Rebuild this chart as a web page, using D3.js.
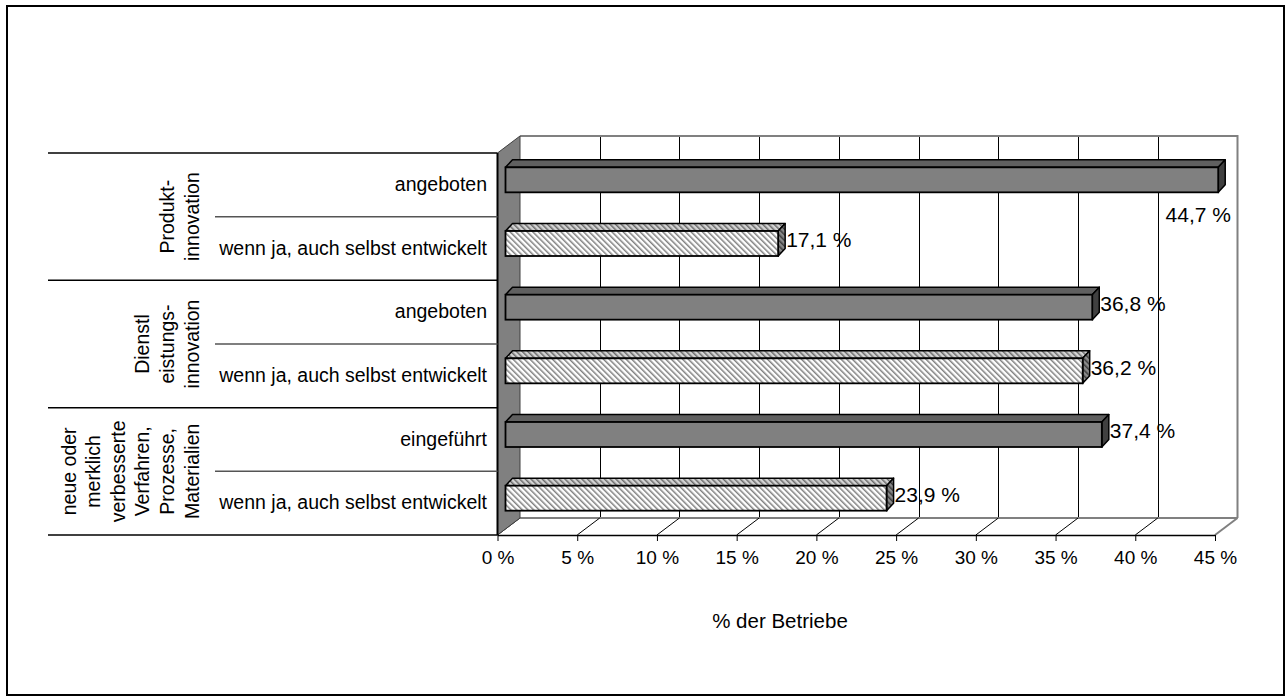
<!DOCTYPE html>
<html>
<head>
<meta charset="utf-8">
<script src="https://cdn.jsdelivr.net/npm/d3@7"></script>
<style>
  html, body { margin: 0; padding: 0; background: #fff; }
  svg { display: block; font-family: "Liberation Sans", Arial, sans-serif; }
</style>
</head>
<body>
<svg id="chart" width="1286" height="700"></svg>
<script>
// Innovation activity of establishments, share in percent
const rowLabels = [
  "angeboten",
  "wenn ja, auch selbst entwickelt",
  "angeboten",
  "wenn ja, auch selbst entwickelt",
  "eingeführt",
  "wenn ja, auch selbst entwickelt"
];
const groupLabels = [
  ["Produkt-", "innovation"],
  ["Dienstl", "eistungs-", "innovation"],
  ["neue oder", "merklich", "verbesserte", "Verfahren,", "Prozesse,", "Materialien"]
];
const values = [44.7, 17.1, 36.8, 36.2, 37.4, 23.9];
const valueLabels = ["44,7 %", "17,1 %", "36,8 %", "36,2 %", "37,4 %", "23,9 %"];
const seriesKind = ["solid", "hatch", "solid", "hatch", "solid", "hatch"];
const tickValues = [0, 5, 10, 15, 20, 25, 30, 35, 40, 45];
const axisTitle = "% der Betriebe";

const svg = d3.select("#chart");
const FONT = 19;
const VFONT = 21;

// outer frame
svg.append("rect").attr("x", 7).attr("y", 6).attr("width", 1277).attr("height", 689)
  .attr("fill", "none").attr("stroke", "#000").attr("stroke-width", 2);

// patterns for the hatched series (backslash direction)
const defs = svg.append("defs");
function hatch(id, bg, fg) {
  const p = defs.append("pattern").attr("id", id).attr("patternUnits", "userSpaceOnUse")
    .attr("width", 4).attr("height", 4).attr("patternTransform", "rotate(-45)");
  p.append("rect").attr("width", 4).attr("height", 4).attr("fill", bg);
  p.append("rect").attr("x", 0).attr("width", 1.5).attr("height", 4).attr("fill", fg);
}
hatch("hFront", "#ffffff", "#808080");
hatch("hTop", "#d4d4d4", "#6a6a6a");
hatch("hSide", "#8a8a8a", "#3a3a3a");

// scales
const x = d3.scaleLinear().domain([0, 45]).range([497.5, 1215]);
const plotTop = 153, plotBottom = 535;
const y = d3.scaleBand().domain(d3.range(rowLabels.length)).range([plotTop, plotBottom]).paddingInner(0).paddingOuter(0);
const DX = 22.5, DY = -17; // depth of the 3D box

const g = svg.append("g");
// back wall
g.append("polygon")
  .attr("points", [[x(0) + DX, plotTop + DY], [x(45) + DX, plotTop + DY], [x(45) + DX, plotBottom + DY], [x(0) + DX, plotBottom + DY]].join(" "))
  .attr("fill", "#fff").attr("stroke", "none");

// vertical gridlines on back wall
g.selectAll("line.grid").data(tickValues.slice(1, -1)).enter().append("line")
  .attr("x1", d => Math.round(x(d) + DX) + 0.5).attr("x2", d => Math.round(x(d) + DX) + 0.5)
  .attr("y1", plotTop + DY).attr("y2", plotBottom + DY)
  .attr("stroke", "#000").attr("stroke-width", 1);

// back wall border (top + right)
g.append("polyline")
  .attr("points", [[x(0) + DX, plotTop + DY], [x(45) + DX, plotTop + DY], [x(45) + DX, plotBottom + DY]].join(" "))
  .attr("fill", "none").attr("stroke", "#808080").attr("stroke-width", 2);

// floor
g.append("polygon")
  .attr("points", [[x(0), plotBottom], [x(45), plotBottom], [x(45) + DX, plotBottom + DY], [x(0) + DX, plotBottom + DY]].join(" "))
  .attr("fill", "#fff").attr("stroke", "none");
g.append("line").attr("x1", x(0) + DX).attr("x2", x(45) + DX).attr("y1", plotBottom + DY).attr("y2", plotBottom + DY)
  .attr("stroke", "#808080").attr("stroke-width", 2);
g.append("line").attr("x1", x(45)).attr("x2", x(45) + DX).attr("y1", plotBottom).attr("y2", plotBottom + DY)
  .attr("stroke", "#808080").attr("stroke-width", 2);
g.selectAll("line.floor").data(tickValues.slice(0, -1)).enter().append("line")
  .attr("x1", d => x(d)).attr("x2", d => x(d) + DX)
  .attr("y1", plotBottom).attr("y2", plotBottom + DY)
  .attr("stroke", "#000").attr("stroke-width", 1);

// left side wall (grey)
g.append("polygon")
  .attr("points", [[x(0), plotTop], [x(0) + DX, plotTop + DY], [x(0) + DX, plotBottom + DY], [x(0), plotBottom]].join(" "))
  .attr("fill", "#808080").attr("stroke", "#404040").attr("stroke-width", 1);

// value axis along the front edge
const xAxis = d3.axisBottom(x).tickValues(tickValues).tickSize(6).tickSizeOuter(0)
  .tickFormat(d => d + " %");
const ax = svg.append("g").attr("transform", `translate(0,${plotBottom})`).call(xAxis);
ax.select(".domain").attr("stroke", "#000").attr("stroke-width", 1.5);
ax.selectAll(".tick line").attr("stroke", "#000").attr("stroke-width", 1);
ax.selectAll(".tick text").attr("font-size", FONT).attr("font-family", "Liberation Sans, Arial, sans-serif")
  .attr("fill", "#000").attr("dy", "1.05em");

// axis title
svg.append("text").attr("x", 780).attr("y", 620).attr("text-anchor", "middle")
  .attr("dominant-baseline", "central").attr("font-size", 20.5).text(axisTitle);

// category axis: vertical line at the front left edge
svg.append("line").attr("x1", x(0)).attr("x2", x(0)).attr("y1", plotTop).attr("y2", plotBottom)
  .attr("stroke", "#000").attr("stroke-width", 2);

// row separators and group separators
const rowBounds = d3.range(rowLabels.length + 1).map(i => plotTop + i * y.step());
svg.selectAll("line.sep").data(rowBounds).enter().append("line")
  .attr("x1", (d, i) => i % 2 === 0 ? 48 : 215).attr("x2", x(0))
  .attr("y1", d => d).attr("y2", d => d)
  .attr("stroke", (d, i) => i % 2 === 0 ? "#000" : "#555").attr("stroke-width", 1.5);

// row labels
svg.selectAll("text.row").data(rowLabels).enter().append("text")
  .attr("x", 487).attr("y", (d, i) => y(i) + y.bandwidth() / 2 - 1)
  .attr("text-anchor", "end").attr("dominant-baseline", "central")
  .attr("font-size", 19.5).text(d => d);

// group labels, rotated
const LINE = 24.6;
groupLabels.forEach((lines, gi) => {
  const cy = plotTop + (gi * 2 + 1) * y.step();
  lines.forEach((t, k) => {
    const cx = 191.5 - (lines.length - 1 - k) * LINE;
    svg.append("text")
      .attr("transform", `translate(${cx},${cy}) rotate(-90)`)
      .attr("text-anchor", "middle").attr("dominant-baseline", "central")
      .attr("font-size", 19.5).text(t);
  });
});

// bars drawn as 3D boxes
const BX = 8;          // front face shift from the front plane
const BH = 25;         // front face height
const bdx = 7, bdy = -7.5; // bar depth
const bars = svg.append("g");
values.forEach((v, i) => {
  const x0 = x(0) + BX;
  const x1 = x(v) + BX;
  const yt = y(i) + y.bandwidth() / 2 - 17.5;
  const yb = yt + BH;
  const solid = seriesKind[i] === "solid";
  const bg = bars.append("g");
  // top face
  bg.append("polygon")
    .attr("points", [[x0, yt], [x0 + bdx, yt + bdy], [x1 + bdx, yt + bdy], [x1, yt]].join(" "))
    .attr("fill", solid ? "#606060" : "url(#hTop)").attr("stroke", "#000").attr("stroke-width", 1.5)
    .attr("stroke-linejoin", "round");
  // right face
  bg.append("polygon")
    .attr("points", [[x1, yt], [x1 + bdx, yt + bdy], [x1 + bdx, yb + bdy], [x1, yb]].join(" "))
    .attr("fill", solid ? "#404040" : "url(#hSide)").attr("stroke", "#000").attr("stroke-width", 1.5)
    .attr("stroke-linejoin", "round");
  // front face
  bg.append("rect").attr("x", x0).attr("y", yt).attr("width", x1 - x0).attr("height", BH)
    .attr("fill", solid ? "#808080" : "url(#hFront)").attr("stroke", "#000").attr("stroke-width", 1.8);

  // value label
  const lbl = svg.append("text").attr("font-size", VFONT).attr("dominant-baseline", "central").text(valueLabels[i]);
  if (x1 + bdx + 75 > 1240) {
    lbl.attr("x", 1231).attr("y", yb + 22).attr("text-anchor", "end");
  } else {
    lbl.attr("x", x1 + bdx + 1).attr("y", (yt + bdy + yb) / 2).attr("text-anchor", "start");
  }
});
</script>
</body>
</html>
